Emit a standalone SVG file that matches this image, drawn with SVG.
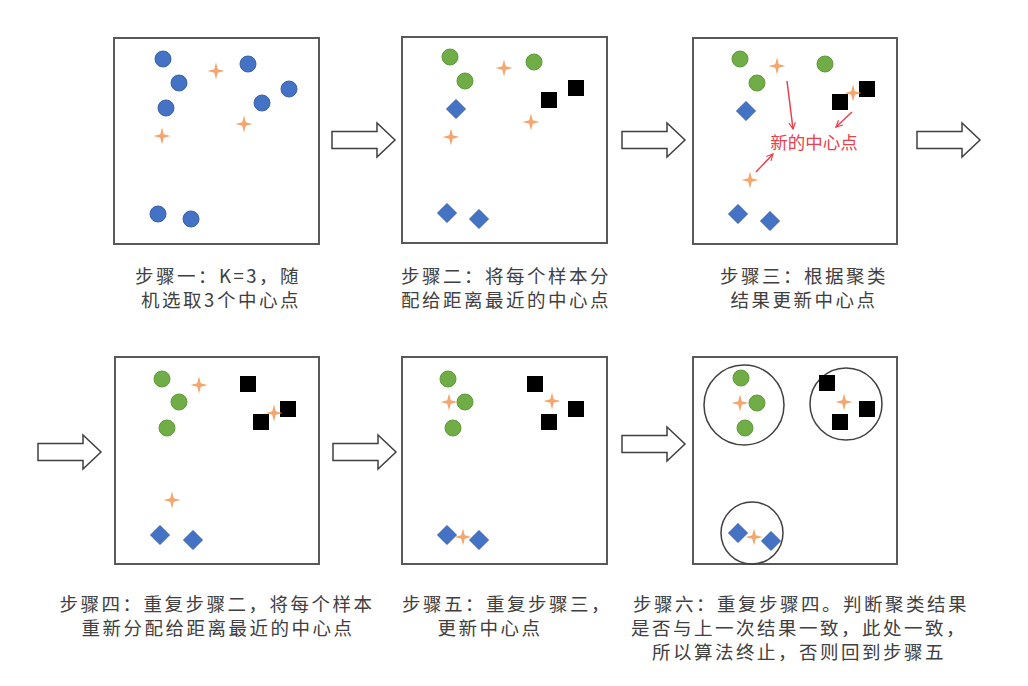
<svg xmlns="http://www.w3.org/2000/svg" xmlns:xlink="http://www.w3.org/1999/xlink" width="1028" height="686" viewBox="0 0 1028 686">
<style>
.panel{fill:#fff;stroke:#595959;stroke-width:2}
.c{fill:#4472C4;stroke:#3A62A8;stroke-width:1}
.g{fill:#70AD47;stroke:#5E9A3A;stroke-width:1}
.s{fill:#000}
.st{fill:#F4A66F}
.ring{fill:none;stroke:#404040;stroke-width:1.5}
.blk{fill:#fff;stroke:#404040;stroke-width:1.5}
.red{stroke:#E8414E;stroke-width:1.5;fill:none}
.lbl{font-family:"Noto Sans CJK SC","Noto Sans",sans-serif;font-size:18.5px;fill:#404040;letter-spacing:2.5px;text-anchor:middle}
.rt{font-family:"Noto Sans CJK SC","Noto Sans",sans-serif;font-size:17.5px;fill:#E8414E;text-anchor:middle}
</style>
<defs>
<path id="star" class="st" d="M0,-8.5 L1.8,-1.8 L8.5,0 L1.8,1.8 L0,8.5 L-1.8,1.8 L-8.5,0 L-1.8,-1.8 Z"/>
<path id="dia" class="c" d="M0,-9.5 L9.5,0 L0,9.5 L-9.5,0 Z"/>
<rect id="sq" class="s" x="-8" y="-8" width="16" height="16"/>
<path id="barrow" class="blk" d="M0,-8.5 H45 V-17 L63,0 L45,17 V8.5 H0 Z"/>
<marker id="rh" viewBox="0 0 10 10" refX="9" refY="5" markerWidth="8" markerHeight="8" orient="auto" markerUnits="userSpaceOnUse">
<path d="M1,1 L9,5 L1,9" fill="none" stroke="#E8414E" stroke-width="1.5"/>
</marker>
</defs>
<rect width="1028" height="686" fill="#fff"/>

<g id="panel1">
<rect class="panel" x="114" y="38" width="205" height="206"/>
<circle class="c" cx="163" cy="59" r="8"/>
<circle class="c" cx="248" cy="64" r="8"/>
<circle class="c" cx="179" cy="83" r="8"/>
<circle class="c" cx="289" cy="89" r="8"/>
<circle class="c" cx="166" cy="108" r="8"/>
<circle class="c" cx="262" cy="103" r="8"/>
<circle class="c" cx="158" cy="214" r="8"/>
<circle class="c" cx="191" cy="219" r="8"/>
<use xlink:href="#star" x="216" y="71"/>
<use xlink:href="#star" x="244" y="124"/>
<use xlink:href="#star" x="162" y="136"/>
</g>

<g id="panel2">
<rect class="panel" x="402" y="37" width="205" height="206"/>
<circle class="g" cx="450" cy="57" r="8"/>
<circle class="g" cx="534" cy="62" r="8"/>
<circle class="g" cx="465" cy="81" r="8"/>
<use xlink:href="#sq" x="549" y="100"/>
<use xlink:href="#sq" x="576" y="88"/>
<use xlink:href="#dia" x="456" y="109"/>
<use xlink:href="#dia" x="447" y="213"/>
<use xlink:href="#dia" x="479" y="219"/>
<use xlink:href="#star" x="504" y="68"/>
<use xlink:href="#star" x="531" y="122"/>
<use xlink:href="#star" x="451" y="137"/>
</g>

<g id="panel3">
<rect class="panel" x="693" y="38" width="204" height="206"/>
<circle class="g" cx="740" cy="59" r="8"/>
<circle class="g" cx="825" cy="64" r="8"/>
<circle class="g" cx="757" cy="83" r="8"/>
<use xlink:href="#sq" x="840" y="102"/>
<use xlink:href="#sq" x="867" y="89"/>
<use xlink:href="#dia" x="746" y="111"/>
<use xlink:href="#dia" x="738" y="214"/>
<use xlink:href="#dia" x="770" y="221"/>
<use xlink:href="#star" x="777" y="66"/>
<use xlink:href="#star" x="853" y="93"/>
<use xlink:href="#star" x="750" y="180"/>
<text class="rt" x="814" y="149">新的中心点</text>
</g>

<g id="panel4">
<rect class="panel" x="115" y="357" width="204" height="207"/>
<circle class="g" cx="162" cy="379" r="8"/>
<circle class="g" cx="179" cy="402" r="8"/>
<circle class="g" cx="167" cy="428" r="8"/>
<use xlink:href="#sq" x="248" y="384"/>
<use xlink:href="#sq" x="288" y="409"/>
<use xlink:href="#sq" x="261" y="422"/>
<use xlink:href="#dia" x="160" y="535"/>
<use xlink:href="#dia" x="193" y="540"/>
<use xlink:href="#star" x="199" y="385"/>
<use xlink:href="#star" x="274" y="413"/>
<use xlink:href="#star" x="172" y="500"/>
</g>

<g id="panel5">
<rect class="panel" x="402" y="357" width="205" height="207"/>
<circle class="g" cx="448" cy="379" r="8"/>
<circle class="g" cx="465" cy="402" r="8"/>
<circle class="g" cx="453" cy="428" r="8"/>
<use xlink:href="#sq" x="535" y="384"/>
<use xlink:href="#sq" x="576" y="409"/>
<use xlink:href="#sq" x="549" y="422"/>
<use xlink:href="#dia" x="447" y="535"/>
<use xlink:href="#dia" x="479" y="540"/>
<use xlink:href="#star" x="449" y="402"/>
<use xlink:href="#star" x="552" y="401"/>
<use xlink:href="#star" x="463" y="537"/>
</g>

<g id="panel6">
<rect class="panel" x="693" y="357" width="204" height="207"/>
<circle class="ring" cx="744" cy="405" r="40"/>
<circle class="ring" cx="846" cy="404" r="36"/>
<circle class="ring" cx="752" cy="533" r="31"/>
<circle class="g" cx="741" cy="378" r="8"/>
<circle class="g" cx="757" cy="403" r="8"/>
<circle class="g" cx="745" cy="428" r="8"/>
<use xlink:href="#sq" x="827" y="383"/>
<use xlink:href="#sq" x="867" y="409"/>
<use xlink:href="#sq" x="840" y="422"/>
<use xlink:href="#dia" x="738" y="533"/>
<use xlink:href="#dia" x="771" y="541"/>
<use xlink:href="#star" x="740" y="403"/>
<use xlink:href="#star" x="844" y="402"/>
<use xlink:href="#star" x="754" y="537"/>
</g>

<g id="connectors">
<use xlink:href="#barrow" x="332" y="140"/>
<use xlink:href="#barrow" x="622" y="140"/>
<use xlink:href="#barrow" x="917" y="140"/>
<use xlink:href="#barrow" x="38" y="452"/>
<use xlink:href="#barrow" x="333" y="452"/>
<use xlink:href="#barrow" x="622" y="444"/>
<line class="red" x1="787" y1="81" x2="793" y2="129" marker-end="url(#rh)"/>
<line class="red" x1="852" y1="112" x2="836" y2="127" marker-end="url(#rh)"/>
<line class="red" x1="756" y1="172" x2="773" y2="154" marker-end="url(#rh)"/>
</g>

<g id="labels">
<text class="lbl" x="218" y="283">步骤一：K=3，随</text>
<text class="lbl" x="221" y="307">机选取3个中心点</text>
<text class="lbl" x="506" y="283">步骤二：将每个样本分</text>
<text class="lbl" x="506" y="307">配给距离最近的中心点</text>
<text class="lbl" x="804" y="283">步骤三：根据聚类</text>
<text class="lbl" x="804" y="307">结果更新中心点</text>
<text class="lbl" x="217" y="611">步骤四：重复步骤二，将每个样本</text>
<text class="lbl" x="218" y="635">重新分配给距离最近的中心点</text>
<text class="lbl" x="507" y="611">步骤五：重复步骤三，</text>
<text class="lbl" x="490" y="635">更新中心点</text>
<text class="lbl" x="801" y="611">步骤六：重复步骤四。判断聚类结果</text>
<text class="lbl" x="799" y="635">是否与上一次结果一致，此处一致，</text>
<text class="lbl" x="799" y="659">所以算法终止，否则回到步骤五</text>
</g>
</svg>
